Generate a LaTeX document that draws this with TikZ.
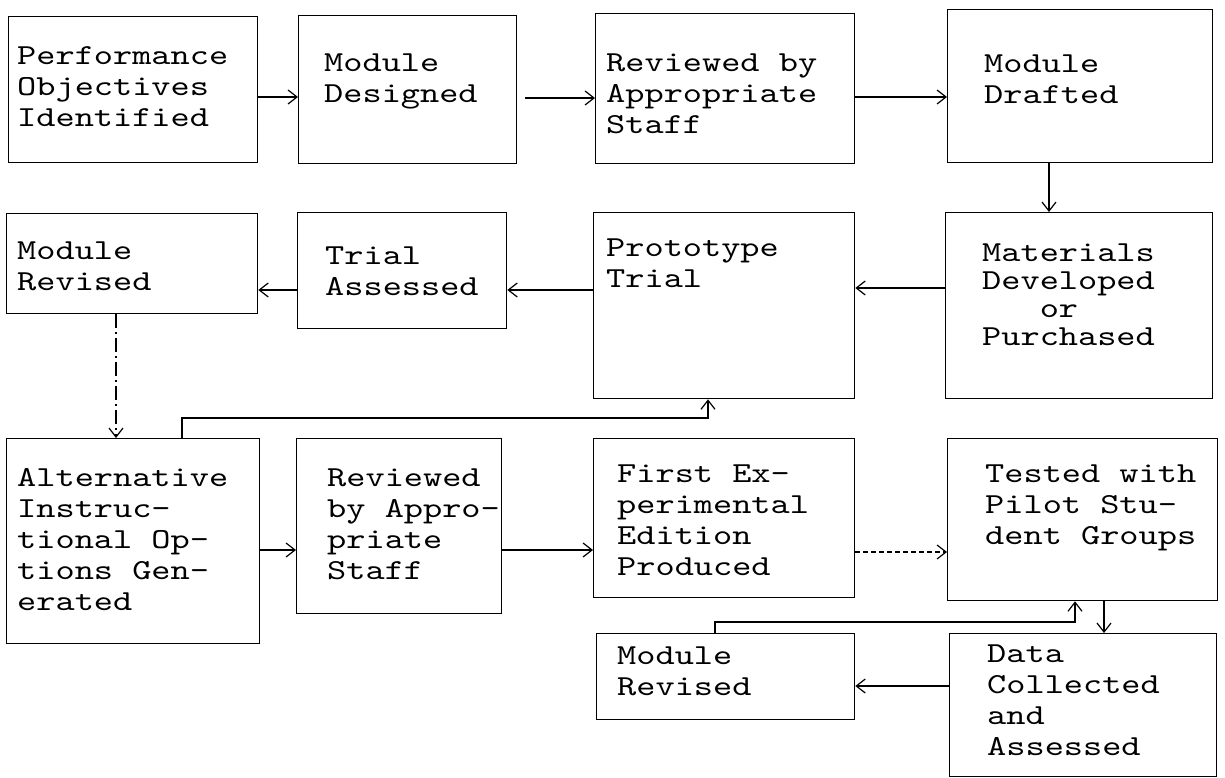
\documentclass[tikz,border=0pt]{standalone}
\usepackage{fontspec}
\newfontfamily\tw{lmmono10-regular.otf}[FakeStretch=1.26]
\usetikzlibrary{arrows.meta}
\newcommand{\ST}{\rule{0pt}{24pt}}
\begin{document}
\begin{tikzpicture}[x=1pt,y=-1pt,
  box/.style={draw, line width=1.3pt, anchor=north west, inner sep=0pt, rectangle},
  txt/.style={anchor=north west, inner sep=0pt, align=left, font=\tw\fontsize{29}{31}\selectfont},
  conn/.style={draw, line width=1.2pt, -{Straight Barb[length=9pt,width=14pt,line width=1.2pt]}}]
\useasboundingbox (0,0) rectangle (1225,778);
% row 1
\node[box, minimum width=249pt, minimum height=146pt] (b1) at (8,16) {};
\node[txt] (t1) at (17,40) {\ST Performance\\Objectives\\Identified};
\node[box, minimum width=218pt, minimum height=148pt] (b2) at (298,15) {};
\node[txt] (t2) at (324,47) {\ST Module\\Designed};
\node[box, minimum width=259pt, minimum height=150pt] (b3) at (595,13) {};
\node[txt] (t3) at (606,47) {\ST Reviewed by\\Appropriate\\Staff};
\node[box, minimum width=265pt, minimum height=153pt] (b4) at (947,9) {};
\node[txt] (t4) at (984,48) {\ST Module\\Drafted};
% row 2
\node[box, minimum width=251pt, minimum height=100pt] (b5) at (6,213) {};
\node[txt] (t5) at (17,235) {\ST Module\\Revised};
\node[box, minimum width=209pt, minimum height=116pt] (b6) at (297,212) {};
\node[txt] (t6) at (325,240) {\ST Trial\\Assessed};
\node[box, minimum width=261pt, minimum height=186pt] (b7) at (593,212) {};
\node[txt] (t7) at (606,232) {\ST Prototype\\Trial};
\node[box, minimum width=267pt, minimum height=186pt] (b8) at (945,212) {};
\node[txt, font=\tw\fontsize{29}{28}\selectfont] (t8) at (982,237) {\ST Materials\\Developed\\\phantom{abc}or\\Purchased};
% row 3
\node[box, minimum width=253pt, minimum height=205pt] (b9) at (6,438) {};
\node[txt] (t9) at (17,462) {\ST Alternative\\Instruc-\\tional Op-\\tions Gen-\\erated};
\node[box, minimum width=205pt, minimum height=175pt] (b10) at (296,438) {};
\node[txt] (t10) at (327,462) {\ST Reviewed\\by Appro-\\priate\\Staff};
\node[box, minimum width=261pt, minimum height=159pt] (b11) at (593,438) {};
\node[txt] (t11) at (617,458) {\ST First Ex-\\perimental\\Edition\\Produced};
\node[box, minimum width=270pt, minimum height=162pt] (b12) at (947,438) {};
\node[txt] (t12) at (985,458) {\ST Tested with\\Pilot Stu-\\dent Groups};
% row 4
\node[box, minimum width=258pt, minimum height=86pt] (b13) at (596,633) {};
\node[txt] (t13) at (617,640) {\ST Module\\Revised};
\node[box, minimum width=267pt, minimum height=143pt] (b14) at (949,633) {};
\node[txt] (t14) at (987,638) {\ST Data\\Collected\\and\\Assessed};
% junction coordinates
\coordinate (j1) at (182,418);
\coordinate (j2) at (708,418);
\coordinate (j3) at (715,622);
\coordinate (j4) at (1075,622);
% connectors
\path[conn] (b1.east |- 0,97) -- (b2.west |- 0,97);
\path[conn] ([xshift=8pt]b2.east |- 0,98) -- (b3.west |- 0,98);
\path[conn] (b3.east |- 0,97) -- (b4.west |- 0,97);
\path[conn] (b4.south -| 1049,0) -- (b8.north -| 1049,0);
\path[conn] (b8.west |- 0,288) -- (b7.east |- 0,288);
\path[conn] (b7.west |- 0,290) -- (b6.east |- 0,290);
\path[conn] (b6.west |- 0,290) -- (b5.east |- 0,290);
\path[conn, dash pattern=on 14pt off 4pt on 2pt off 4pt] (b5.south -| 116,0) -- (b9.north -| 116,0);
\path[conn] (b9.north -| j1) -- (j1) -- (j2) -- (b7.south -| j2);
\path[conn] (b9.east |- 0,550) -- (b10.west |- 0,550);
\path[conn] (b10.east |- 0,550) -- (b11.west |- 0,550);
\path[conn, dash pattern=on 5pt off 3pt] (b11.east |- 0,552) -- (b12.west |- 0,552);
\path[conn] (b12.south -| 1104,0) -- (b14.north -| 1104,0);
\path[conn] (b14.west |- 0,686) -- (b13.east |- 0,686);
\path[conn] (b13.north -| j3) -- (j3) -- (j4) -- (b12.south -| j4);
\end{tikzpicture}
\end{document}
